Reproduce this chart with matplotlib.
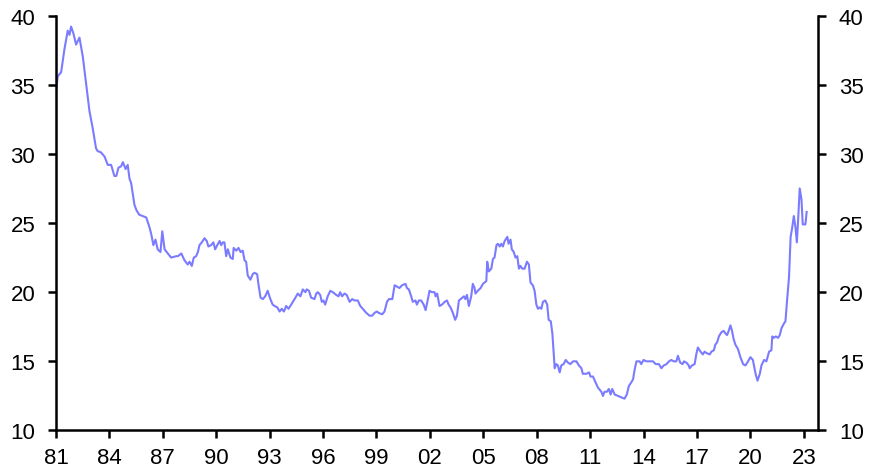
import matplotlib
matplotlib.use("Agg")
import matplotlib.pyplot as plt

plt.rcParams['font.family'] = ['Liberation Sans', 'DejaVu Sans']

# decimal years and values
years = [
    1981.00, 1981.10, 1981.29, 1981.48, 1981.66, 1981.76, 1981.85, 1981.98, 1982.13, 1982.32,
    1982.51, 1982.70, 1982.88, 1983.07, 1983.25, 1983.34, 1983.53, 1983.73, 1983.91, 1984.10,
    1984.28, 1984.39, 1984.51, 1984.66, 1984.76, 1984.91, 1985.03, 1985.13, 1985.22, 1985.41,
    1985.53, 1985.68, 1986.07, 1986.25, 1986.35, 1986.47, 1986.59, 1986.71, 1986.87, 1986.97,
    1987.10, 1987.28, 1987.47, 1987.75, 1987.85, 1988.04, 1988.22, 1988.40, 1988.50, 1988.63,
    1988.74, 1988.87, 1988.97, 1989.06, 1989.19, 1989.34, 1989.47, 1989.56, 1989.71, 1989.84,
    1989.94, 1990.06, 1990.19, 1990.28, 1990.37, 1990.46, 1990.56, 1990.65, 1990.80, 1990.93,
    1990.98, 1991.12, 1991.25, 1991.37, 1991.49, 1991.59, 1991.68, 1991.77, 1991.92, 1992.05,
    1992.15, 1992.30, 1992.38, 1992.49, 1992.62, 1992.75, 1992.89, 1993.04, 1993.17, 1993.28,
    1993.43, 1993.56, 1993.68, 1993.80, 1993.93, 1994.06, 1994.21, 1994.40, 1994.58, 1994.73,
    1994.86, 1995.01, 1995.08, 1995.21, 1995.33, 1995.52, 1995.62, 1995.71, 1995.84, 1995.93,
    1996.02, 1996.12, 1996.26, 1996.41, 1996.55, 1996.74, 1996.87, 1996.96, 1997.07, 1997.20,
    1997.33, 1997.49, 1997.64, 1997.77, 1997.95, 1998.09, 1998.23, 1998.43, 1998.61, 1998.76,
    1998.89, 1999.02, 1999.13, 1999.32, 1999.45, 1999.59, 1999.70, 1999.89, 2000.02, 2000.15,
    2000.29, 2000.44, 2000.63, 2000.71, 2000.82, 2000.95, 2001.04, 2001.19, 2001.27, 2001.38,
    2001.51, 2001.65, 2001.76, 2001.89, 2001.98, 2002.11, 2002.26, 2002.32, 2002.41, 2002.54,
    2002.68, 2002.83, 2002.96, 2003.05, 2003.16, 2003.29, 2003.42, 2003.52, 2003.63, 2003.73,
    2003.91, 2003.99, 2004.08, 2004.19, 2004.32, 2004.41, 2004.51, 2004.56, 2004.69, 2004.85,
    2004.98, 2005.17, 2005.22, 2005.31, 2005.45, 2005.54, 2005.63, 2005.74, 2005.82, 2005.92,
    2006.01, 2006.10, 2006.20, 2006.35, 2006.42, 2006.53, 2006.60, 2006.71, 2006.81, 2006.91,
    2007.00, 2007.08, 2007.19, 2007.32, 2007.45, 2007.56, 2007.65, 2007.78, 2007.88, 2007.98,
    2008.07, 2008.16, 2008.26, 2008.35, 2008.48, 2008.59, 2008.67, 2008.79, 2008.88, 2008.97,
    2009.01, 2009.10, 2009.19, 2009.29, 2009.38, 2009.51, 2009.63, 2009.76, 2009.89, 2010.04,
    2010.23, 2010.37, 2010.51, 2010.59, 2010.79, 2010.94, 2011.02, 2011.16, 2011.26, 2011.44,
    2011.63, 2011.72, 2011.81, 2011.94, 2012.05, 2012.15, 2012.24, 2012.38, 2012.56, 2012.75,
    2012.93, 2013.06, 2013.17, 2013.32, 2013.41, 2013.50, 2013.60, 2013.78, 2013.87, 2014.00,
    2014.15, 2014.35, 2014.53, 2014.68, 2014.86, 2015.00, 2015.13, 2015.29, 2015.43, 2015.56,
    2015.69, 2015.84, 2015.93, 2016.06, 2016.19, 2016.27, 2016.41, 2016.54, 2016.59, 2016.72,
    2016.87, 2016.96, 2017.05, 2017.20, 2017.33, 2017.43, 2017.53, 2017.72, 2017.81, 2017.95,
    2018.03, 2018.14, 2018.23, 2018.37, 2018.50, 2018.61, 2018.69, 2018.78, 2018.88, 2018.97,
    2019.06, 2019.16, 2019.30, 2019.44, 2019.59, 2019.72, 2019.87, 2020.00, 2020.14, 2020.29,
    2020.40, 2020.53, 2020.62, 2020.77, 2020.90, 2021.05, 2021.18, 2021.23, 2021.32, 2021.43,
    2021.56, 2021.65, 2021.75, 2021.87, 2021.97, 2022.06, 2022.17, 2022.26, 2022.34, 2022.44,
    2022.53, 2022.61, 2022.68, 2022.77, 2022.87, 2022.94, 2023.09, 2023.16,
]
values = [
    34.5, 35.6, 35.9, 37.6, 38.9, 38.6, 39.2, 38.7, 37.9, 38.4,
    37.0, 35.0, 33.1, 31.8, 30.4, 30.2, 30.1, 29.8, 29.2, 29.2,
    28.4, 28.4, 29.0, 29.1, 29.4, 28.9, 29.2, 28.2, 27.9, 26.3,
    25.9, 25.6, 25.4, 24.7, 24.2, 23.4, 23.8, 23.1, 22.9, 24.4,
    23.1, 22.8, 22.5, 22.6, 22.6, 22.8, 22.3, 22.0, 22.2, 21.9,
    22.5, 22.6, 22.9, 23.4, 23.6, 23.9, 23.7, 23.3, 23.4, 23.6,
    23.1, 23.4, 23.7, 23.4, 23.6, 23.6, 22.6, 23.1, 22.5, 22.4,
    23.2, 23.0, 23.2, 22.9, 23.0, 22.3, 22.2, 21.2, 20.9, 21.3,
    21.4, 21.3, 20.5, 19.6, 19.5, 19.7, 20.1, 19.5, 19.1, 19.0,
    18.9, 18.6, 18.8, 18.6, 19.0, 18.8, 19.1, 19.5, 19.9, 19.7,
    20.2, 20.0, 20.2, 20.1, 19.6, 19.5, 19.9, 20.0, 19.8, 19.3,
    19.4, 19.1, 19.7, 20.1, 20.0, 19.8, 19.7, 20.0, 19.7, 19.9,
    19.8, 19.3, 19.5, 19.4, 19.4, 19.0, 18.8, 18.5, 18.3, 18.3,
    18.5, 18.6, 18.5, 18.4, 18.6, 19.3, 19.5, 19.5, 20.5, 20.4,
    20.3, 20.5, 20.6, 20.3, 20.2, 19.7, 19.3, 19.4, 19.1, 19.4,
    19.4, 19.1, 18.7, 19.5, 20.1, 20.0, 20.0, 19.7, 19.9, 19.0,
    19.1, 19.3, 19.4, 19.1, 18.9, 18.5, 18.0, 18.3, 19.4, 19.5,
    19.7, 19.5, 19.8, 19.0, 19.7, 20.6, 20.3, 19.9, 20.1, 20.3,
    20.6, 20.8, 22.2, 21.5, 21.7, 22.4, 22.5, 23.4, 23.5, 23.3,
    23.5, 23.3, 23.7, 24.0, 23.5, 23.8, 23.1, 22.9, 22.5, 22.6,
    21.7, 21.9, 21.7, 21.7, 22.2, 22.0, 20.7, 20.5, 20.1, 19.1,
    18.8, 18.9, 18.8, 19.3, 19.4, 19.1, 18.0, 17.9, 17.0, 15.3,
    14.5, 14.8, 14.7, 14.2, 14.7, 14.8, 15.1, 14.9, 14.8, 15.0,
    15.0, 14.7, 14.5, 14.1, 14.1, 14.2, 13.9, 13.9, 13.6, 13.1,
    12.8, 12.5, 12.8, 12.8, 13.0, 12.6, 13.0, 12.6, 12.5, 12.4,
    12.3, 12.6, 13.2, 13.5, 13.7, 14.4, 15.0, 15.0, 14.8, 15.1,
    15.0, 15.0, 15.0, 14.8, 14.8, 14.5, 14.7, 14.8, 15.0, 15.1,
    15.0, 15.0, 15.4, 14.9, 14.8, 15.0, 14.9, 14.7, 14.5, 14.7,
    14.8, 15.5, 16.0, 15.7, 15.5, 15.7, 15.6, 15.5, 15.7, 15.8,
    16.2, 16.4, 16.8, 17.1, 17.2, 17.0, 16.9, 17.2, 17.6, 17.2,
    16.6, 16.2, 15.9, 15.3, 14.8, 14.7, 15.0, 15.3, 15.1, 14.1,
    13.6, 14.1, 14.7, 15.1, 15.0, 15.7, 15.8, 16.8, 16.7, 16.8,
    16.7, 16.9, 17.4, 17.7, 17.9, 19.4, 21.1, 24.0, 24.6, 25.5,
    24.7, 23.6, 25.2, 27.5, 26.7, 24.9, 24.9, 25.8,
]

tick_years = list(range(1981, 2024, 3))
tick_labels = [f"{y % 100:02d}" for y in tick_years]
y_ticks = [10, 15, 20, 25, 30, 35, 40]

fig = plt.figure(figsize=(8.8, 4.77), dpi=100)
ax = fig.add_axes([0.0636, 0.0954, 0.866, 0.870])

ax.plot(years, values, color="#7b7bff", linewidth=1.5)

ax.set_xlim(1981.0, 2023.8)
ax.set_ylim(10, 40)
ax.set_xticks(tick_years)
ax.set_xticklabels(tick_labels)
ax.set_yticks(y_ticks)

for side in ["left", "right", "bottom"]:
    ax.spines[side].set_linewidth(1.8)
    ax.spines[side].set_color("black")
ax.spines["top"].set_visible(False)

ax.tick_params(axis="both", direction="out", length=6, width=1.8,
               labelsize=16, colors="black")
ax.tick_params(axis="y", which="both", left=True, right=True,
               labelleft=True, labelright=True, pad=9)
ax.tick_params(axis="x", pad=6)

fig.savefig("out.png", dpi=100)
